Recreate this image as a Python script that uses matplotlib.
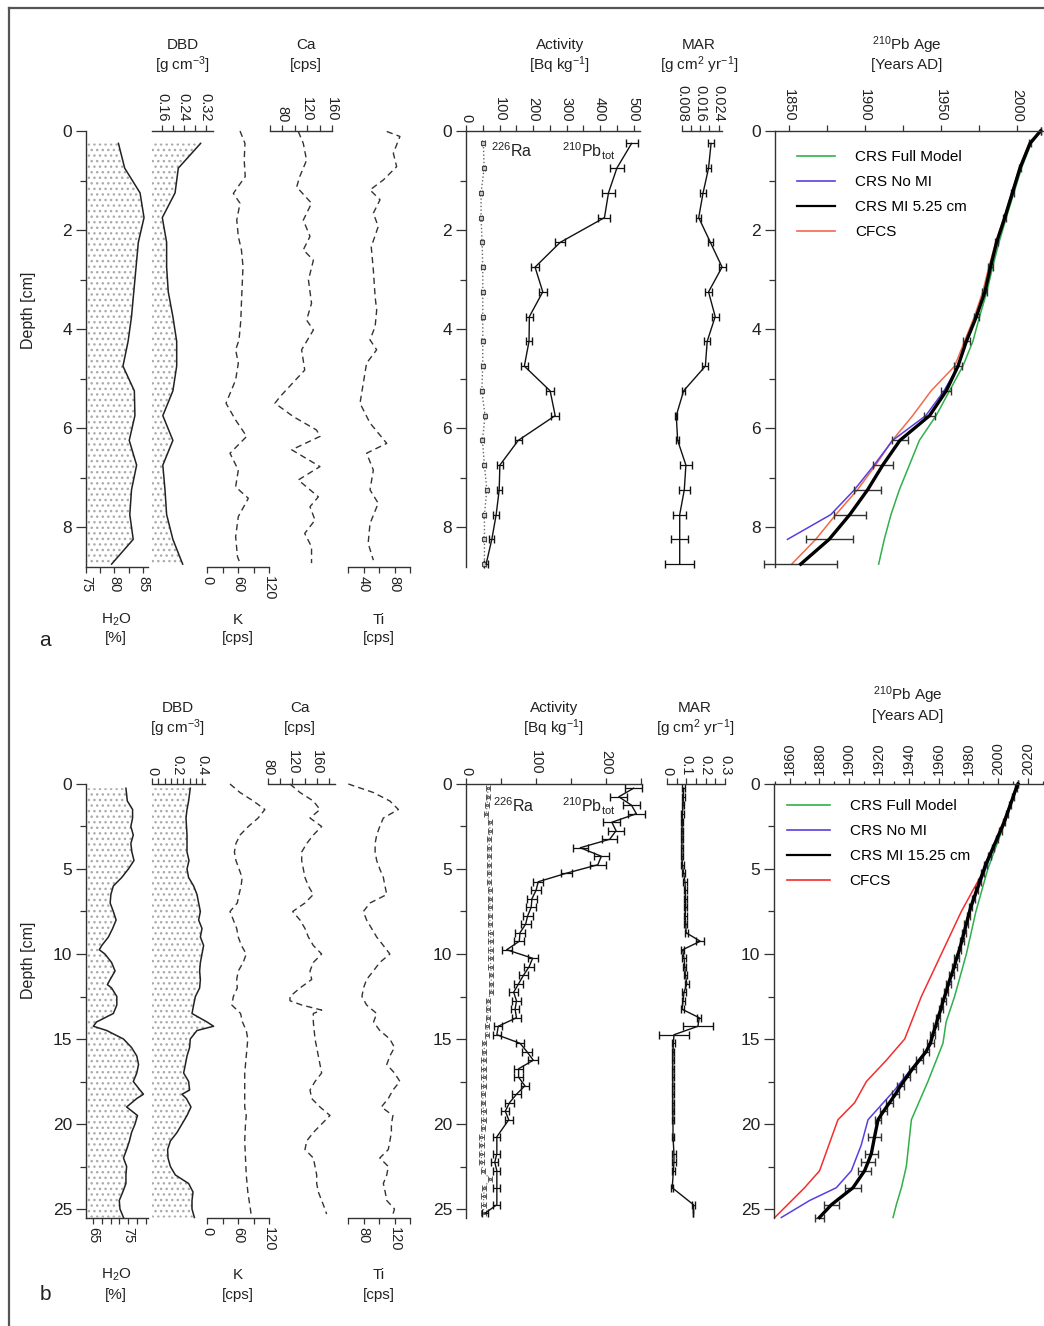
import matplotlib
matplotlib.use('Agg')
import matplotlib.pyplot as plt
from matplotlib.lines import Line2D

plt.rcParams['font.family'] = ['Liberation Sans', 'DejaVu Sans']
plt.rcParams['mathtext.default'] = 'regular'
plt.rcParams['hatch.linewidth'] = 1.0
plt.rcParams['axes.linewidth'] = 1.0
plt.rcParams['axes.edgecolor'] = '#333333'
plt.rcParams['font.size'] = 11

# ---------------- panel a data ----------------
depth_a = [0.25, 0.75, 1.25, 1.75, 2.25, 2.75, 3.25, 3.75, 4.25,
           4.75, 5.25, 5.75, 6.25, 6.75, 7.25, 7.75, 8.25, 8.75]
h2o_a = [80.7, 81.8, 84.5, 85.2, 84.2, 83.8, 83.4, 83.0, 82.4,
         81.5, 83.5, 83.6, 82.6, 83.9, 83.0, 82.7, 83.3, 79.5]
dbd_a = [0.302, 0.220, 0.208, 0.161, 0.177, 0.177, 0.183, 0.200, 0.214,
         0.214, 0.200, 0.163, 0.200, 0.163, 0.171, 0.177, 0.200, 0.236]

k_depth_a = [0.0, 0.25, 0.59, 0.92, 1.26, 1.46, 1.8, 2.13, 2.4, 2.74, 3.14, 3.48, 3.82, 4.22,
             4.42, 4.69, 5.03, 5.5, 5.84, 6.17, 6.51, 6.85, 7.19, 7.42, 7.79, 8.2, 8.6, 8.73]
k_a = [63.9, 73.5, 72, 74, 51, 63.9, 57.6, 60.6, 66.6, 69.7, 68, 66.6, 65.5, 62,
       55.4, 60.6, 55.4, 36.8, 55.4, 76.8, 44.5, 60.6, 55.4, 80, 60.6, 55.4, 59, 63.9]
ca_depth_a = [0.01, 0.25, 0.59, 0.92, 1.13, 1.46, 1.8, 2.13, 2.4, 2.61, 3.01, 3.48, 3.82, 4.02, 4.42,
              4.83, 5.37, 5.5, 5.77, 6.04, 6.17, 6.44, 6.78, 7.05, 7.39, 7.59, 7.86, 8.13, 8.4, 8.73]
ca_a = [105.6, 113.7, 119, 108, 103, 127, 113.7, 124.5, 113.7, 130, 122, 127, 119, 130, 111,
        116, 76, 68, 97.6, 135, 140.6, 95, 140.6, 105.6, 138, 124.5, 132.6, 116, 127, 127]
ti_depth_a = [0.01, 0.11, 0.45, 0.72, 0.99, 1.19, 1.39, 1.66, 1.93, 2.34, 2.81, 3.35, 3.62, 3.95,
              4.22, 4.42, 4.69, 5.09, 5.5, 5.9, 6.31, 6.51, 6.85, 7.25, 7.52, 7.93, 8.33, 8.67]
ti_a = [70, 87, 78.5, 82.8, 65.5, 48.4, 61.3, 52.7, 59, 50, 52.7, 55, 57, 55,
        48.4, 57, 44, 39.8, 35.5, 48.4, 70, 44, 52.7, 48.4, 59, 48.4, 46, 52.7]

pb_a = [494, 450, 425, 413, 281, 206, 229, 189, 188, 174, 251, 266, 156, 101, 99, 90, 77, 60]
pb_err_a = [18, 20, 18, 18, 15, 12, 12, 10, 10, 10, 12, 12, 10, 8, 8, 8, 8, 6]
ra_a = [52, 54, 45, 45, 48, 50, 50, 50, 50, 50, 47, 57, 49, 55, 62, 55, 55, 55]
ra_err_a = 4
mar_a = [0.0207, 0.0196, 0.0172, 0.0153, 0.0204, 0.0255, 0.0196, 0.0225, 0.0190,
         0.0182, 0.0087, 0.0055, 0.0061, 0.0097, 0.0090, 0.0070, 0.0070, 0.0070]
mar_err_a = [0.0012, 0.0012, 0.0012, 0.0012, 0.0012, 0.0015, 0.0015, 0.0015, 0.0013,
             0.0013, 0.0006, 0.0005, 0.0006, 0.0025, 0.0025, 0.0028, 0.0036, 0.0063]

age_depth_a = [0, 0.25, 0.75, 1.25, 1.75, 2.25, 2.75, 3.25, 3.75, 4.25,
               4.75, 5.25, 5.75, 6.25, 6.75, 7.25, 7.75, 8.25, 8.75]
crs_mi_a = [2015.5, 2008.6, 2002, 1997, 1992, 1986.6, 1982.6, 1978.9, 1973.3, 1966.7,
            1961.2, 1953.5, 1942.5, 1923.0, 1911.7, 1901.7, 1890.0, 1876.4, 1857.7]
crs_mi_err_a = [0, 0.5, 0.7, 0.9, 1.0, 1.2, 1.4, 1.6, 1.8, 2.2,
                2.8, 3.3, 3.9, 5.0, 6.6, 8.8, 10.5, 15.4, 24]
crs_full_a = [2015.5, 2009.3, 2003, 1998, 1993, 1988.2, 1984, 1980.2, 1975.4, 1971,
              1964.4, 1955.6, 1946.8, 1935.8, 1929.2, 1922.6, 1917.1, 1912.7, 1909]
crs_nomi_a = [2015.5, 2008.6, 2002, 1997, 1992, 1986.6, 1982.6, 1978.9, 1973.3, 1966.7,
              1961.2, 1952, 1940, 1918.2, 1906, 1893, 1877.5, 1849]
cfcs_a = [2015.5, 2008, 2001.5, 1996.5, 1991.5, 1986, 1981.5, 1977.5, 1972, 1965.5,
          1959, 1943.5, 1931.4, 1918, 1907, 1895, 1880.8, 1867.6, 1851.8]

# ---------------- panel b data ----------------
h2o_depth_b = [0.25, 1, 1.5, 2, 2.5, 3, 3.5, 4, 4.5, 5, 5.5, 6, 6.5, 7, 7.5, 8, 8.5, 9, 9.5, 9.75,
               10, 10.5, 11, 11.5, 11.8, 12, 12.5, 13, 13.5, 14, 14.25, 14.5, 15, 15.5, 16, 16.5,
               17, 17.5, 18, 18.25, 18.5, 19, 19.5, 20, 20.5, 21, 21.5, 22, 22.5, 23, 23.5, 24,
               24.5, 25, 25.5]
h2o_b = [74.4, 74.8, 76.3, 76.3, 75.8, 76.5, 75.8, 76.1, 76.7, 75.1, 73.2, 70.8, 70.1, 69.9,
         70.8, 71.6, 70.6, 69.4, 67.5, 66.8, 68.4, 70.3, 71.3, 69.9, 69.1, 70.3, 71.8, 71.8,
         70.8, 66.0, 65.1, 68.9, 73.7, 76.0, 77.5, 78.0, 77.5, 76.5, 78.4, 79.4, 77.5, 74.6,
         77.7, 77.0, 76.0, 75.4, 74.6, 73.7, 74.6, 74.4, 74.4, 73.5, 72.5, 72.7, 73.7]
dbd_depth_b = [0.25, 1, 1.5, 2, 3, 4, 4.5, 5, 5.5, 6, 6.5, 7, 7.5, 8, 8.5, 9, 9.5, 10, 10.5, 11,
               11.5, 12, 12.5, 13, 13.5, 14, 14.25, 14.5, 15, 15.5, 16, 16.5, 17, 17.5, 18, 18.25,
               18.5, 19, 19.5, 20, 20.5, 21, 21.5, 22, 22.5, 23, 23.5, 24, 24.5, 25, 25.5]
dbd_b = [0.306, 0.293, 0.280, 0.272, 0.280, 0.280, 0.296, 0.280, 0.293, 0.333, 0.360, 0.373,
         0.387, 0.373, 0.400, 0.387, 0.413, 0.400, 0.387, 0.381, 0.387, 0.381, 0.347, 0.333,
         0.320, 0.440, 0.493, 0.360, 0.306, 0.301, 0.280, 0.267, 0.253, 0.293, 0.301, 0.240,
         0.275, 0.312, 0.280, 0.240, 0.200, 0.147, 0.125, 0.128, 0.147, 0.187, 0.293, 0.328,
         0.320, 0.320, 0.339]
k_depth_b = [0, 0.5, 1, 1.5, 2, 2.5, 3, 3.5, 4, 4.5, 5, 5.5, 6, 6.5, 7, 7.5, 8, 8.5, 9, 9.5,
             10, 10.5, 11, 11.5, 12, 12.5, 13, 13.5, 14, 14.5, 15, 16, 17, 18, 19, 19.5, 20,
             21, 22, 23, 24, 25, 25.5]
k_b = [44.5, 63.9, 89.7, 112, 99, 80, 64, 56, 53, 56, 62, 68, 66, 62, 58.6, 44.5, 51, 57.5,
       60.5, 66.6, 76, 70, 60.5, 57.5, 58.6, 51, 48, 65, 68.6, 76, 79, 76, 73, 73, 73, 76,
       74.5, 73, 74.5, 76, 79, 84, 86]
ca_depth_b = [0, 0.5, 1, 1.5, 2, 2.5, 3, 3.5, 4, 4.5, 5, 5.5, 6, 6.5, 7, 7.5, 8, 8.5, 9, 9.5,
              10, 10.5, 11, 11.5, 12, 12.5, 12.75, 13, 13.3, 13.5, 14, 15, 16, 16.5, 17, 17.5,
              18, 18.5, 19, 19.5, 20, 20.5, 21, 21.5, 22, 22.5, 23, 23.5, 24, 24.5, 25, 25.3]
ca_b = [115.9, 132.2, 154, 164.9, 148.6, 167.6, 154, 143.2, 135, 135, 137.7, 140.4, 145.9,
        154, 140.4, 120.3, 132.2, 140.4, 145.9, 154, 167.6, 154, 148.6, 151.3, 132.2, 115.9,
        115.9, 135, 167.6, 154, 154, 156.8, 162.2, 164.9, 167.6, 156.8, 148.6, 151.3, 164.9,
        181.2, 167.6, 154, 143.2, 140.4, 154, 156.8, 159.5, 159.5, 162.2, 167.6, 173, 175.7]
ti_depth_b = [0, 0.5, 1, 1.5, 2, 2.5, 3, 3.5, 4, 4.5, 5, 5.5, 6, 6.5, 7, 7.5, 8, 8.5, 9, 9.5,
              10, 10.5, 11, 11.5, 12, 12.5, 13, 13.5, 14, 14.5, 15, 15.5, 16, 16.5, 17, 17.5,
              18, 18.5, 19, 19.5, 20, 20.5, 21, 21.5, 22, 22.5, 23, 23.5, 24, 24.5, 25, 25.3]
ti_b = [60.4, 92.7, 114, 125, 105.6, 101, 97, 95, 95, 97, 101, 105.6, 107.7, 110, 88.4, 79.8,
        84, 90.5, 97, 105.6, 114, 101, 92.7, 84, 80, 78, 84, 97, 93, 101, 114, 120, 114, 110,
        120, 127, 118, 112, 103, 118, 116, 116, 114, 112, 101, 112, 110, 105.6, 108, 110, 120, 118]

pb_depth_b = [0.25, 0.75, 1.25, 1.75, 2.25, 2.75, 3.25, 3.75, 4.25, 4.75, 5.25, 5.75, 6.25,
              6.75, 7.25, 7.75, 8.25, 8.75, 9.25, 9.75, 10.25, 10.75, 11.25, 11.75, 12.25,
              12.75, 13.25, 13.75, 14.25, 14.75, 15.25, 15.75, 16.25, 16.75, 17.25, 17.75,
              18.25, 18.75, 19.25, 19.75, 20.75, 21.75, 22.25, 22.75, 23.75, 24.75, 25.25]
pb_b = [239, 218, 236, 243, 208, 214, 205, 163, 193, 188, 143, 103, 100, 94, 93, 88, 85, 77,
        76, 58, 95, 90, 82, 75, 68, 72, 70, 72, 46, 44, 77, 87, 96, 75, 75, 84, 72, 62, 56,
        61, 44, 44, 41, 44, 44, 44, 27]
pb_err_b = [12, 12, 12, 12, 12, 11, 11, 11, 11, 11, 8, 7, 7, 7, 7, 7, 7, 7, 7, 7, 7, 7, 7, 6,
            6, 6, 6, 6, 6, 6, 6, 7, 7, 6, 6, 6, 6, 6, 6, 6, 5, 5, 5, 5, 5, 5, 4]
ra_depth_b = [0.25, 0.75, 1.25, 1.75, 2.25, 2.75, 3.25, 3.75, 4.25, 4.75, 5.25, 5.75, 6.25,
              6.75, 7.25, 7.75, 8.25, 8.75, 9.25, 9.75, 10.25, 10.75, 11.25, 11.75, 12.25,
              12.75, 13.25, 13.75, 14.25, 14.75, 15.25, 15.75, 16.25, 16.75, 17.25, 17.75,
              18.25, 18.75, 19.25, 19.75, 20.25, 20.75, 21.25, 21.75, 22.25, 22.75, 23.25,
              23.75, 24.25, 24.75, 25.25]
ra_b = [31, 31, 30, 29, 34, 34, 33, 33, 33, 33, 33, 33, 34, 34, 34, 34, 34, 35, 35, 35, 35,
        35, 36, 36, 36, 31, 31, 31, 30, 30, 26, 26, 25, 25, 25, 25, 24, 24, 25, 25, 24, 22,
        22, 22, 22, 24, 34, 26, 25, 25, 25]
ra_err_b = 3
mar_b = [0.086, 0.085, 0.083, 0.080, 0.079, 0.078, 0.078, 0.077, 0.077, 0.080, 0.086, 0.093,
         0.095, 0.096, 0.097, 0.094, 0.097, 0.099, 0.172, 0.081, 0.088, 0.092, 0.095, 0.103,
         0.088, 0.083, 0.078, 0.167, 0.160, 0.036, 0.033, 0.031, 0.030, 0.030, 0.030, 0.030,
         0.030, 0.030, 0.031, 0.031, 0.031, 0.036, 0.036, 0.033, 0.027, 0.137, 0.137]
mar_err_b = [0.006, 0.006, 0.006, 0.006, 0.006, 0.006, 0.006, 0.006, 0.006, 0.006, 0.006,
             0.008, 0.008, 0.008, 0.008, 0.008, 0.008, 0.008, 0.020, 0.008, 0.008, 0.008,
             0.008, 0.010, 0.008, 0.008, 0.008, 0.010, 0.077, 0.077, 0.006, 0.006, 0.006,
             0.006, 0.006, 0.006, 0.006, 0.006, 0.006, 0.006, 0.006, 0.008, 0.008, 0.008,
             0.006, 0.006, 0.0]

age_depth_b = [0, 0.25, 0.75, 1.25, 1.75, 2.25, 2.75, 3.25, 3.75, 4.25, 4.75, 5.25, 5.75,
               6.25, 6.75, 7.25, 7.75, 8.25, 8.75, 9.25, 9.75, 10.25, 10.75, 11.25, 11.75,
               12.25, 12.75, 13.25, 13.75, 14.25, 14.75, 15.25, 15.75, 16.25, 16.75, 17.25,
               17.75, 18.25, 18.75, 19.25, 19.75, 20.75, 21.75, 22.25, 22.75, 23.75, 24.75, 25.5]
crs_mi_b = [2013.2, 2012, 2010, 2008, 2006, 2004, 2001.5, 1999, 1996.5, 1994, 1991.5, 1989.5,
            1987.5, 1985.5, 1983.5, 1981.5, 1980, 1978.5, 1977, 1975.5, 1974, 1972, 1970.5,
            1968.5, 1966.5, 1965, 1963, 1961.5, 1959.5, 1958, 1956, 1954.5, 1951.5, 1947,
            1942.5, 1938.5, 1934.5, 1931, 1927, 1923, 1919.3, 1917, 1914.8, 1912.6, 1910.3,
            1902.5, 1888, 1880]
crs_mi_err_b = [0, 0.8, 0.8, 0.8, 0.8, 0.8, 0.8, 0.8, 0.8, 0.8, 0.8, 1.2, 1.2, 1.2, 1.2, 1.2,
                1.2, 1.2, 1.2, 1.2, 1.2, 1.6, 1.6, 1.6, 1.6, 1.6, 1.6, 1.6, 1.6, 1.6, 1.6, 2.2,
                2.2, 2.2, 2.2, 2.2, 2.2, 2.2, 2.2, 2.2, 2.2, 4.5, 4.5, 4.5, 4.5, 5.6, 5.0, 2.8]
nomi_depth_b = [0, 2.5, 5, 7.5, 10, 12.5, 15, 15.5, 17, 18, 19.75, 21.25, 22.75, 23.75, 24.5, 25.5]
crs_nomi_b = [2013.2, 2002.5, 1991.5, 1981, 1973.5, 1964.5, 1955.5, 1953.5, 1939.4, 1930.5,
              1912.6, 1908, 1901.4, 1891.3, 1873.4, 1854.4]
full_depth_b = [0, 2.5, 5, 7.5, 10, 12.5, 14, 15.25, 17.5, 19.75, 22.5, 23.75, 24.75, 25.5]
crs_full_b = [2013.2, 2003.5, 1993, 1985, 1978.6, 1970.7, 1965, 1962.9, 1952.8, 1941.7,
              1938.3, 1935, 1931.6, 1929.4]
cfcs_depth_b = [0, 5, 6.25, 7.5, 10, 12.5, 13.75, 15, 16.25, 17.5, 18.75, 19.75, 22.75, 23.75, 25.5]
cfcs_b = [2013.2, 1990.9, 1983, 1975.2, 1961.8, 1948.4, 1942.8, 1937.2, 1924.9, 1911.5,
          1903.6, 1892.4, 1880.1, 1870, 1850]

model_names_a = ['CRS Full Model', 'CRS No MI', 'CRS MI 5.25 cm', 'CFCS']
model_names_b = ['CRS Full Model', 'CRS No MI', 'CRS MI 15.25 cm', 'CFCS']

GREEN = '#2fb04a'
BLUE = '#5a3ee0'
RED_A = '#f26a4a'
RED_B = '#f22e2e'
INK = '#222222'

W, H = 1044, 1326
fig = plt.figure(figsize=(W / 100, H / 100), dpi=100)


def add_ax(x0, x1, y0, y1):
    # pixel box (from top-left) -> figure fraction
    return fig.add_axes([x0 / W, 1 - y1 / H, (x1 - x0) / W, (y1 - y0) / H])


def ftext(x, y, s, **kw):
    kw.setdefault('ha', 'center')
    kw.setdefault('va', 'center')
    kw.setdefault('color', INK)
    fig.text(x / W, 1 - y / H, s, **kw)


def strip(ax, side, xlim, ylim, major, minor, labels=None, rot=270):
    ax.set_xlim(*xlim)
    ax.set_ylim(*ylim)
    ax.patch.set_visible(False)
    for name, sp in ax.spines.items():
        sp.set_visible(name == side)
    ax.xaxis.set_ticks_position(side)
    ax.set_xticks(major)
    if labels is not None:
        ax.set_xticklabels(labels)
    ax.set_xticks(minor, minor=True)
    ax.tick_params(axis='x', which='both', direction='out', length=4.5, width=0.9,
                   pad=2, labelsize=10.5, labelrotation=rot, colors='#333333', labelcolor=INK)
    ax.set_yticks([])


def depth_axis(ax, major, minor):
    ax.spines['left'].set_visible(True)
    ax.yaxis.set_ticks_position('left')
    ax.set_yticks(major)
    ax.set_yticks(minor, minor=True)
    ax.tick_params(axis='y', which='major', direction='out', length=7, width=0.9, pad=3,
                   labelsize=12.5, colors='#333333', labelcolor=INK)
    ax.tick_params(axis='y', which='minor', direction='out', length=4, width=0.9,
                   colors='#333333')


def noclip(container):
    for art in container.get_children():
        art.set_clip_on(False)


def dotted_fill(ax, depth, vals, left):
    ax.fill_betweenx(depth, left, vals, facecolor='none', edgecolor='#ababab',
                     hatch='...', linewidth=0, zorder=1)
    ax.plot(vals, depth, color=INK, lw=1.1, zorder=3, clip_on=False)


def dashed(ax, vals, depth):
    ax.plot(vals, depth, color='#333333', lw=1.0, ls=(0, (4.5, 3)), clip_on=False)


def age_legend(ax, names, handlelength, anchor, red):
    handles = [Line2D([], [], color=GREEN, lw=1.2), Line2D([], [], color=BLUE, lw=1.2),
               Line2D([], [], color='black', lw=1.6), Line2D([], [], color=red, lw=1.2)]
    ax.legend(handles, names, loc='upper left', bbox_to_anchor=anchor, frameon=False,
              fontsize=11, handlelength=handlelength, handletextpad=1.3, labelspacing=0.72,
              borderpad=0, borderaxespad=0)


# ======================= panel a =======================
ya = (131, 131 + 8.8 * 49.5)
ylim_a = (8.8, 0)

ax = add_ax(86, 148, *ya)
strip(ax, 'bottom', (75, 85.9), ylim_a, [75, 80, 85], [77.5, 82.5])
depth_axis(ax, [0, 2, 4, 6, 8], [1, 3, 5, 7])
dotted_fill(ax, depth_a, h2o_a, 75)

ax = add_ax(152, 213, *ya)
strip(ax, 'top', (0.1232, 0.3475), ylim_a, [0.16, 0.24, 0.32], [0.20, 0.28],
      labels=['0.16', '0.24', '0.32'])
dotted_fill(ax, depth_a, dbd_a, 0.1232)

ax = add_ax(207, 269, *ya)
strip(ax, 'bottom', (0, 120), ylim_a, [0, 60, 120], [30, 90])
dashed(ax, k_a, k_depth_a)

ax = add_ax(270, 332, *ya)
strip(ax, 'top', (60, 160), ylim_a, [80, 120, 160], [60, 100, 140])
dashed(ax, ca_a, ca_depth_a)

ax = add_ax(348, 410, *ya)
strip(ax, 'bottom', (20, 100), ylim_a, [40, 80], [20, 60, 100])
dashed(ax, ti_a, ti_depth_a)

ax = add_ax(466, 640, *ya)
strip(ax, 'top', (0, 519), ylim_a, [0, 100, 200, 300, 400, 500], [50, 150, 250, 350, 450])
depth_axis(ax, [0, 2, 4, 6, 8], [1, 3, 5, 7])
c = ax.errorbar(ra_a, depth_a, xerr=ra_err_a, color='#666666', ls=':', lw=1.0, marker='s',
                ms=3.0, mfc='#cccccc', mec='#444444', mew=0.8, capsize=2, elinewidth=0.8,
                ecolor='#444444')
noclip(c)
c = ax.errorbar(pb_a, depth_a, xerr=pb_err_a, color='#111111', lw=1.0, capsize=3,
                elinewidth=0.9)
noclip(c)

ax = add_ax(682, 722, *ya)
strip(ax, 'top', (0.008, 0.02547), ylim_a, [0.008, 0.016, 0.024], [0.012, 0.020],
      labels=['0.008', '0.016', '0.024'])
c = ax.errorbar(mar_a, depth_a, xerr=mar_err_a, color='#111111', lw=1.0, capsize=3,
                elinewidth=0.9)
noclip(c)

ax = add_ax(775, 1044, *ya)
strip(ax, 'top', (1840.8, 2017.8), ylim_a, [1850, 1900, 1950, 2000], [1875, 1925, 1975])
depth_axis(ax, [0, 2, 4, 6, 8], [1, 3, 5, 7])
ax.plot(crs_full_a, age_depth_a, color=GREEN, lw=1.1, clip_on=False)
ax.plot(cfcs_a, age_depth_a, color=RED_A, lw=1.1, clip_on=False)
ax.plot(crs_nomi_a, age_depth_a[:len(crs_nomi_a)], color=BLUE, lw=1.1, clip_on=False)
c = ax.errorbar(crs_mi_a, age_depth_a, xerr=crs_mi_err_a, color='black', lw=2.4,
                ecolor='#333333', elinewidth=1.0, capsize=3)
noclip(c)
age_legend(ax, model_names_a, 2.5, ((797 - 775) / 269, 1 - (150 - 131) / 435.6), RED_A)

ftext(183, 45, 'DBD')
ftext(183, 65, '[g cm$^{-3}$]')
ftext(306, 45, 'Ca')
ftext(306, 65, '[cps]')
ftext(560, 45, 'Activity')
ftext(560, 65, '[Bq kg$^{-1}$]')
ftext(699, 45, 'MAR')
ftext(699, 65, '[g cm$^{2}$ yr$^{-1}$]')
ftext(907, 45, '$^{210}$Pb Age')
ftext(907, 65, '[Years AD]')
ftext(116, 620, 'H$_2$O')
ftext(116, 638, '[%]')
ftext(238, 620, 'K')
ftext(238, 638, '[cps]')
ftext(379, 620, 'Ti')
ftext(379, 638, '[cps]')
ftext(45, 640, 'a', fontsize=15)
ftext(28, 310, 'Depth [cm]', rotation=90, fontsize=11.5)
ftext(491, 151, '$^{226}$Ra', ha='left', fontsize=11.5)
ftext(562, 151, '$^{210}$Pb$_{tot}$', ha='left', fontsize=11.5)

# ======================= panel b =======================
yb = (784, 784 + 25.5 * 17)
ylim_b = (25.5, 0)
dmaj_b = [0, 5, 10, 15, 20, 25]
dmin_b = [2.5, 7.5, 12.5, 17.5, 22.5]

ax = add_ax(86, 148, *yb)
strip(ax, 'bottom', (63, 80.7), ylim_b, [65, 75], [67.5, 70, 72.5, 77.5, 80])
depth_axis(ax, dmaj_b, dmin_b)
dotted_fill(ax, h2o_depth_b, h2o_b, 63)

ax = add_ax(152, 205, *yb)
strip(ax, 'top', (0, 0.424), ylim_b, [0, 0.2, 0.4], [0.05, 0.1, 0.15, 0.25, 0.3, 0.35],
      labels=['0', '0.2', '0.4'])
dotted_fill(ax, dbd_depth_b, dbd_b, 0)

ax = add_ax(207, 269, *yb)
strip(ax, 'bottom', (0, 120), ylim_b, [0, 60, 120], [30, 90])
dashed(ax, k_b, k_depth_b)

ax = add_ax(268, 335, *yb)
strip(ax, 'top', (80, 189.4), ylim_b, [80, 120, 160], [100, 140, 180])
dashed(ax, ca_b, ca_depth_b)

ax = add_ax(348, 410, *yb)
strip(ax, 'bottom', (60, 140), ylim_b, [80, 120], [60, 100, 140])
dashed(ax, ti_b, ti_depth_b)

ax = add_ax(466, 642, *yb)
strip(ax, 'top', (0, 251), ylim_b, [0, 100, 200], [50, 150, 250])
depth_axis(ax, dmaj_b, dmin_b)
c = ax.errorbar(ra_b, ra_depth_b, xerr=ra_err_b, color='#777777', ls=':', lw=0.9, marker='s',
                ms=2.0, mfc='#bbbbbb', mec='#555555', mew=0.6, capsize=2, elinewidth=0.8,
                ecolor='#444444')
noclip(c)
c = ax.errorbar(pb_b, pb_depth_b, xerr=pb_err_b, color='#111111', lw=1.0, capsize=3,
                elinewidth=0.9)
noclip(c)

ax = add_ax(667, 725, *yb)
strip(ax, 'top', (0, 0.3), ylim_b, [0, 0.1, 0.2, 0.3], [0.05, 0.15, 0.25],
      labels=['0', '0.1', '0.2', '0.3'])
c = ax.errorbar(mar_b, pb_depth_b, xerr=mar_err_b, color='#111111', lw=1.0, capsize=3,
                elinewidth=0.9)
noclip(c)

ax = add_ax(774, 1044, *yb)
strip(ax, 'top', (1849.5, 2030.7), ylim_b, [1860, 1880, 1900, 1920, 1940, 1960, 1980, 2000, 2020],
      [1850, 1870, 1890, 1910, 1930, 1950, 1970, 1990, 2010, 2030], rot=90)
ax.tick_params(axis='x', which='minor', length=2.5)
depth_axis(ax, dmaj_b, dmin_b)
ax.plot(crs_full_b, full_depth_b, color=GREEN, lw=1.1, clip_on=False)
ax.plot(cfcs_b, cfcs_depth_b, color=RED_B, lw=1.1, clip_on=False)
ax.plot(crs_nomi_b, nomi_depth_b, color=BLUE, lw=1.1, clip_on=False)
c = ax.errorbar(crs_mi_b, age_depth_b, xerr=crs_mi_err_b, color='black', lw=2.4,
                ecolor='#333333', elinewidth=1.0, capsize=3)
noclip(c)
age_legend(ax, model_names_b, 2.8, ((787 - 774) / 270, 1 - (799 - 784) / 433.5), RED_B)

ftext(178, 708, 'DBD')
ftext(178, 728, '[g cm$^{-3}$]')
ftext(300, 708, 'Ca')
ftext(300, 728, '[cps]')
ftext(554, 708, 'Activity')
ftext(554, 728, '[Bq kg$^{-1}$]')
ftext(695, 708, 'MAR')
ftext(695, 728, '[g cm$^{2}$ yr$^{-1}$]')
ftext(908, 695, '$^{210}$Pb Age')
ftext(908, 716, '[Years AD]')
ftext(116, 1275, 'H$_2$O')
ftext(116, 1295, '[%]')
ftext(238, 1275, 'K')
ftext(238, 1295, '[cps]')
ftext(379, 1275, 'Ti')
ftext(379, 1295, '[cps]')
ftext(45, 1295, 'b', fontsize=15)
ftext(28, 960, 'Depth [cm]', rotation=90, fontsize=11.5)
ftext(493, 806, '$^{226}$Ra', ha='left', fontsize=11.5)
ftext(562, 806, '$^{210}$Pb$_{tot}$', ha='left', fontsize=11.5)

# outer frame (left and top edges)
fig.add_artist(Line2D([9 / W, 9 / W], [0, 1 - 8 / H], color='#555555', lw=1.6))
fig.add_artist(Line2D([9 / W, 1], [1 - 8 / H, 1 - 8 / H], color='#555555', lw=1.6))

fig.savefig('out.png', dpi=100)
